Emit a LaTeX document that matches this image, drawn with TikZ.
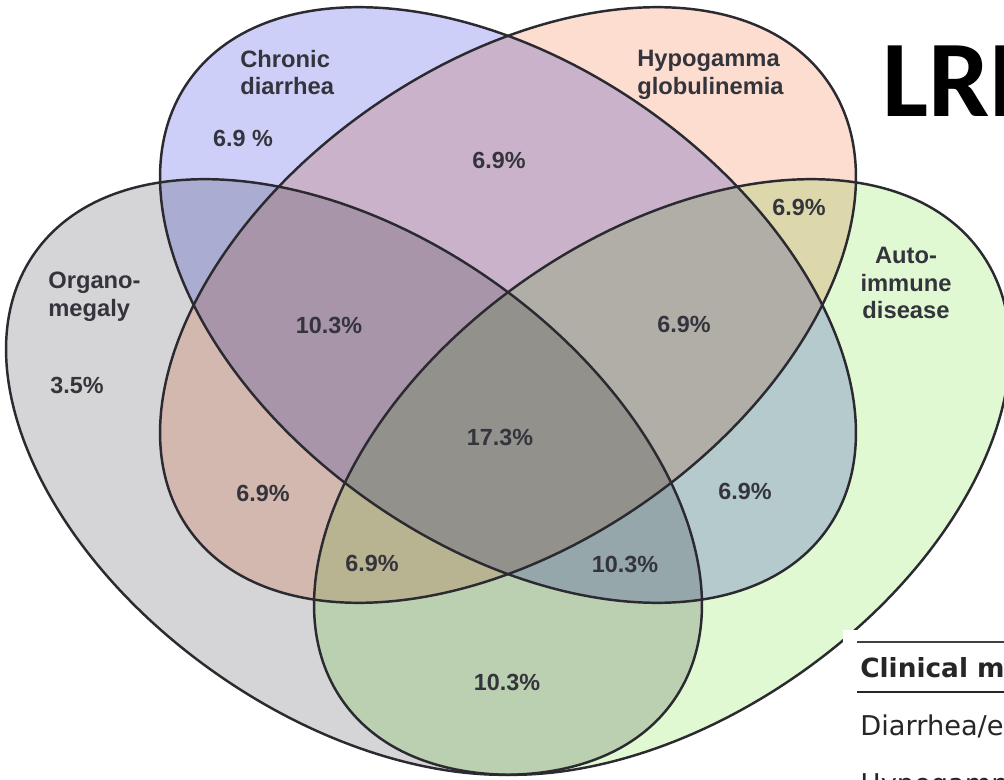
\documentclass[tikz,border=0pt]{standalone}
\usepackage{fontspec}
\setmainfont{Liberation Sans}
\newfontfamily\tablefont{DejaVu Sans}
\newfontfamily\titlefont{Carlito}
\usepackage{xcolor}
\usepackage{tikz}
\definecolor{grayset}{HTML}{D5D5D7}
\definecolor{blueset}{HTML}{CDCFF8}
\definecolor{orangeset}{HTML}{FCDDD0}
\definecolor{greenset}{HTML}{E0F9D3}
\definecolor{rimline}{HTML}{2A2A30}
\definecolor{labeltext}{HTML}{34343C}

\begin{document}
\begin{tikzpicture}[x=0.02cm, y=-0.02cm,
  setfill/.style={fill=#1, blend mode=multiply},
  setrim/.style={draw=rimline, line width=1.4pt},
  setname/.style={inner sep=0pt, text=labeltext, font=\fontsize{13.5}{15.6}\selectfont\bfseries},
  pct/.style={inner sep=0pt, text=labeltext, font=\fontsize{13.3}{15}\selectfont\bfseries}]
\useasboundingbox (0,0) rectangle (1004,780);
\fill[white] (0,0) rectangle (1004,780);

% centres of the four sets
\coordinate (organo) at (354,477);
\coordinate (diarr) at (508,305);
\coordinate (hypo) at (508,305);
\coordinate (autoimm) at (662,477);

\foreach \c/\tilt/\col in {organo/-35/grayset, diarr/-35/blueset, hypo/35/orangeset, autoimm/35/greenset}
  \fill[setfill=\col, shift={(\c)}, rotate=\tilt] (0,0) ellipse [x radius=390, y radius=240];
\foreach \c/\tilt in {organo/-35, diarr/-35, hypo/35, autoimm/35}
  \draw[setrim, shift={(\c)}, rotate=\tilt] (0,0) ellipse [x radius=390, y radius=240];

% set names
\node[setname, anchor=north west, align=left] (diarrname) at (240,50) {Chronic\\diarrhea};
\node[setname, anchor=north west, align=left] (hyponame) at (637,50) {Hypogamma\\globulinemia};
\node[setname, anchor=north west, align=left] (organoname) at (48,272) {Organo-\\megaly};
\node[setname, anchor=north, align=center] (autoname) at (906,247) {Auto-\\immune\\disease};

% percentages
\node[pct] (pd) at (243,138) {6.9 \%};
\node[pct] (pdh) at (499,160) {6.9\%};
\node[pct] (pha) at (799,207) {6.9\%};
\node[pct] (pdho) at (329,325) {10.3\%};
\node[pct] (pdha) at (684,324) {6.9\%};
\node[pct] (po) at (77,385) {3.5\%};
\node[pct] (pall) at (500,437) {17.3\%};
\node[pct] (pho) at (263,493) {6.9\%};
\node[pct] (pda) at (745,491) {6.9\%};
\node[pct] (phoa) at (372,563) {6.9\%};
\node[pct] (pdoa) at (625,564) {10.3\%};
\node[pct] (poa) at (507,682) {10.3\%};

% title and table corner
\node[anchor=base west, inner sep=0pt, font=\fontsize{62}{70}\selectfont\titlefont\bfseries] (title) at (882,117) {LRBA};
\fill[white] (843,630) rectangle (1004,780);
\draw[line width=0.7pt, black!75] (857,642) -- (1004,642);
\node[anchor=base west, inner sep=0pt, font=\fontsize{15}{18}\selectfont\tablefont\bfseries, text=black!85] (tablehead) at (860,677) {Clinical manifestations};
\draw[line width=1.4pt, black!85] (857,692) -- (1004,692);
\node[anchor=base west, inner sep=0pt, font=\fontsize{15.5}{18}\selectfont\tablefont, text=black!85] (rowone) at (860,735) {Diarrhea/enteropathy};
\node[anchor=base west, inner sep=0pt, font=\fontsize{15.5}{18}\selectfont\tablefont, text=black!85] (rowtwo) at (860,793) {Hypogammaglobulinemia};
\end{tikzpicture}
\end{document}
